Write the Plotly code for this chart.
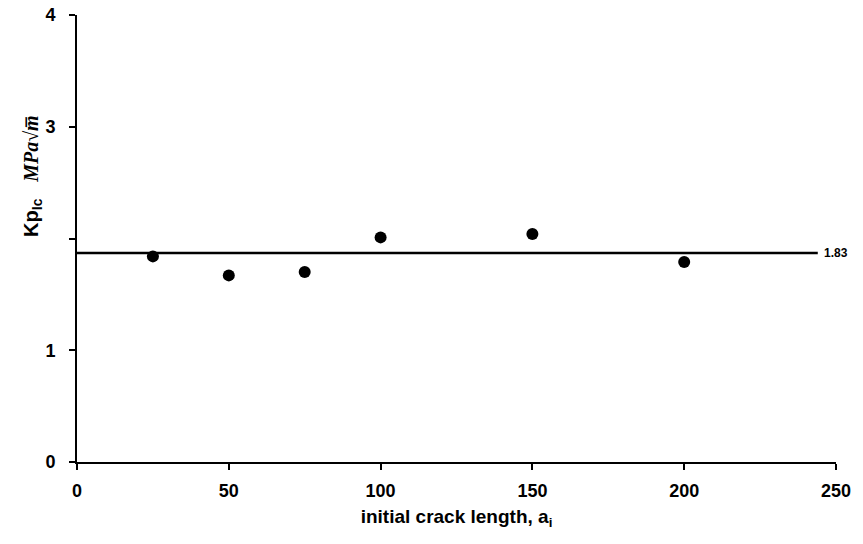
import plotly.graph_objects as go

crack_length = [25, 50, 75, 100, 150, 200]
kpic = [1.84, 1.67, 1.70, 2.01, 2.04, 1.79]
mean_line_x = [0, 244]
mean_line_y = [1.87, 1.87]
mean_label = "1.83"
x_ticks = [0, 50, 100, 150, 200, 250]
y_ticks = [0, 1, 2, 3, 4]
y_ticktext = ["0", "1", "", "3", "4"]

fig = go.Figure()
fig.add_trace(go.Scatter(x=mean_line_x, y=mean_line_y, mode="lines",
                         line=dict(color="black", width=2.5), showlegend=False,
                         hoverinfo="skip"))
fig.add_trace(go.Scatter(x=crack_length, y=kpic, mode="markers",
                         marker=dict(color="black", size=12), showlegend=False))
fig.add_annotation(x=mean_line_x[1], y=mean_line_y[1], text="<b>" + mean_label + "</b>",
                   showarrow=False, xanchor="left", xshift=4,
                   font=dict(family="Arial, Liberation Sans", size=12, color="black"))
fig.add_annotation(xref="paper", yref="paper", x=-0.058, y=0.64,
                   text="<b>Kp</b><sub><b>Ic</b></sub>   "
                        "<span style='font-family:Liberation Serif'><b><i>MPa</i>√<i>m\u0305</i></b></span>",
                   textangle=-90, showarrow=False, xanchor="center", yanchor="middle",
                   font=dict(family="Arial, Liberation Sans", size=20, color="black"))

axis_font = dict(family="Arial, Liberation Sans", size=18, color="black")
fig.update_layout(
    width=863, height=544,
    margin=dict(l=77, r=27, t=15, b=82),
    plot_bgcolor="white", paper_bgcolor="white",
    xaxis=dict(range=[0, 250], tickvals=x_ticks, ticktext=["<b>%d</b>" % v for v in x_ticks],
               showgrid=False, zeroline=False, showline=True, linecolor="black", linewidth=2,
               ticks="outside", ticklen=6, tickwidth=1.5, tickcolor="black",
               tickfont=axis_font, ticklabelstandoff=5, automargin=False,
               title=dict(text="<b>initial crack length, a<sub>i</sub></b>",
                          font=dict(family="Arial, Liberation Sans", size=19, color="black"),
                          standoff=10)),
    yaxis=dict(range=[0, 4], tickvals=y_ticks, ticktext=["<b>%s</b>" % t if t else "" for t in y_ticktext],
               showgrid=False, zeroline=False, showline=True, linecolor="black", linewidth=2,
               ticks="outside", ticklen=6, tickwidth=1.5, tickcolor="black",
               tickfont=axis_font, ticklabelstandoff=10, automargin=False),
)
fig.write_html("out.html")
